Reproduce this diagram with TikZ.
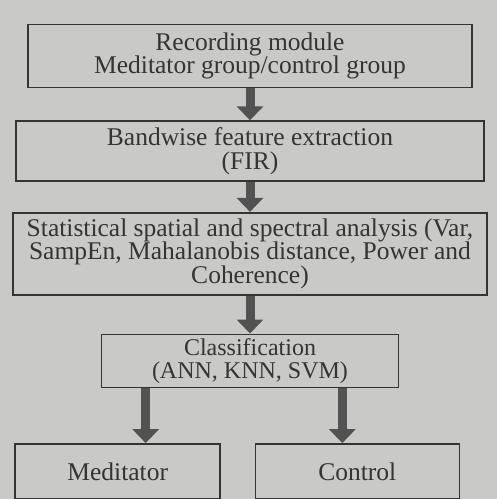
\documentclass[tikz,border=0pt]{standalone}
\usepackage{fontspec}
\setmainfont{Liberation Serif}
\usetikzlibrary{positioning, arrows.meta}
\definecolor{paper}{RGB}{201,201,199}
\definecolor{ink}{RGB}{52,52,52}

\begin{document}
\begin{tikzpicture}[x=1pt, y=1pt, node distance=30pt,
    box/.style={draw=ink, line width=1.6pt, fill=paper, align=center, text=ink,
        font=\fontsize{25.5}{23.5}\selectfont, inner sep=2pt},
    flow/.style={-{Triangle[length=14pt,width=26pt]}, line width=9pt, draw=ink!85}]
    \fill[paper] (0,0) rectangle (497,-499);
    \useasboundingbox (0,0) rectangle (497,-499);

    \node (rec) [box, minimum width=444pt, minimum height=63pt] at (250,-56) {Recording module \\ Meditator group/control group};
    \node (band) [box, minimum width=468pt, minimum height=60pt, below=32pt of rec] {Bandwise feature extraction \\ (FIR)};
    \node (stat) [box, minimum width=474pt, minimum height=82pt, below=30pt of band] {Statistical spatial and spectral analysis (Var, \\ SampEn, Mahalanobis distance, Power and \\ Coherence)};
    \node (cls) [box, minimum width=297pt, minimum height=53pt, below=38pt of stat, font=\fontsize{24}{23}\selectfont] {Classification \\ (ANN, KNN, SVM)};
    \node (med) [box, minimum width=205pt, minimum height=55pt, below=55pt of cls.south west, anchor=north, xshift=17pt] {Meditator};
    \node (ctrl) [box, minimum width=204pt, minimum height=55pt, below=55pt of cls.south east, anchor=north, xshift=-42pt] {Control};

    \draw[flow] (rec) -- (band);
    \draw[flow] (band) -- (stat);
    \draw[flow] (stat) -- (cls);
    \draw[flow] ([xshift=28pt]med.north |- cls.south) -- ([xshift=28pt]med.north);
    \draw[flow] ([xshift=-15pt]ctrl.north |- cls.south) -- ([xshift=-15pt]ctrl.north);
\end{tikzpicture}
\end{document}
